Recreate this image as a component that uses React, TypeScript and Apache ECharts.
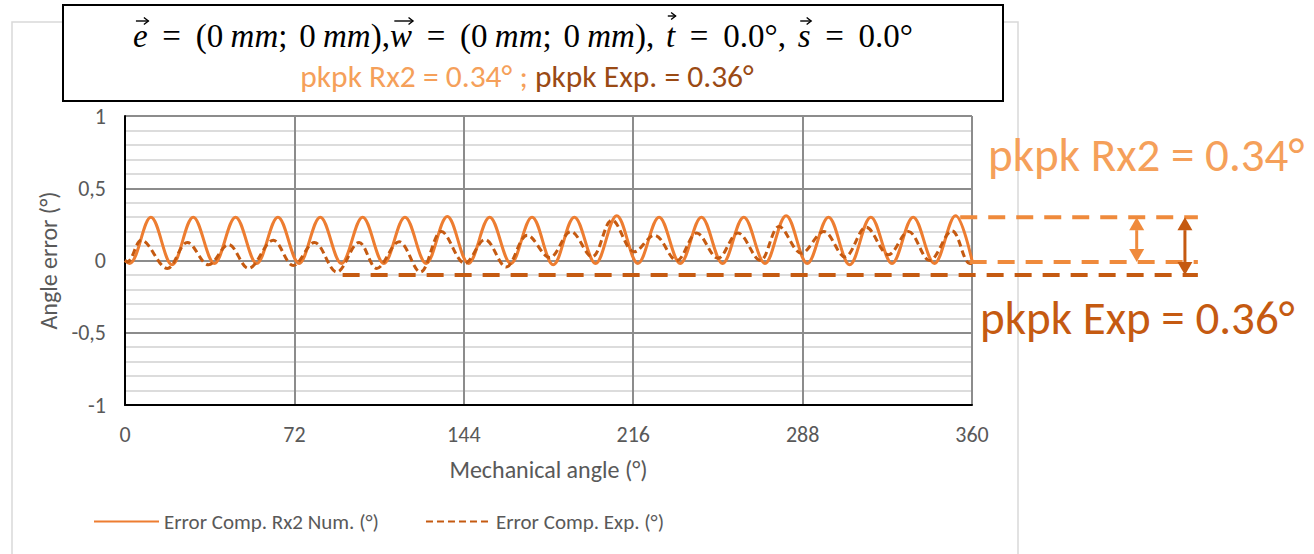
import React, { useEffect, useRef } from "react";
import * as echarts from "echarts";

// Solid series (Rx2 numerical) – extrema
const solidX = [0, 2, 11, 20, 29, 38, 47, 56, 65, 74, 83, 92, 101, 110, 119, 128, 137, 146, 155, 164, 173, 182, 191, 200, 209, 218, 227, 236, 245, 254, 263, 272, 281, 290, 299, 308, 317, 326, 335, 344, 353, 360];
const solidY = [0.0, -0.02,
  0.30, -0.03, 0.30, -0.02, 0.30, -0.02, 0.30, -0.02, 0.30, -0.02,
  0.30, -0.02, 0.30, -0.02, 0.305, -0.02, 0.30, -0.02, 0.30, -0.03,
  0.30, -0.02, 0.31, -0.02, 0.30, -0.02, 0.30, -0.02, 0.30, -0.02,
  0.31, -0.02, 0.30, -0.03, 0.30, -0.02, 0.30, -0.02, 0.31,
  0.0];

// Dashed series (experimental)
const expX = [0, 1, 7, 18, 26.5, 35.5, 44, 52.5, 63, 71.5, 80.5, 90, 99.5, 107, 116.5, 125.5, 134.5, 144.5, 153, 162, 171, 180.5, 189.5, 198.5, 207, 216.5, 225, 234.5, 243, 252, 260.5, 270, 278, 287.5, 297, 306, 315, 324.5, 333, 342, 351.5, 359, 360];
const expY = [0.0, -0.01, 0.14, -0.055, 0.125, -0.03, 0.11, -0.055, 0.14, -0.035, 0.125, -0.08, 0.125, -0.055, 0.13, -0.08, 0.20, -0.02, 0.145, -0.045, 0.175, 0.02, 0.20, 0.025, 0.28, 0.06, 0.175, 0.0, 0.19, 0.015, 0.19, 0.0, 0.235, 0.05, 0.20, 0.025, 0.23, 0.04, 0.20, 0.0, 0.205, -0.02, -0.02];

const seriesNames = ["Error Comp. Rx2 Num. (°)", "Error Comp. Exp. (°)"];

// Peak-to-peak guide annotations (values in chart units)
const guideLevels = [0.30, -0.01, -0.10];
const guideStarts = [355, 359, 92.5];
const guideEnd = 456;
const arrowAt = [430, 450.5];
const arrowSpans = [[0.30, -0.01], [0.30, -0.10]];

// Title formula tokens: [text, italic, vector, space weight after]
const titleTokens: [string, boolean, boolean, number][] = [
  ["e", true, true, 1], ["=", false, false, 1], ["(0", false, false, 0.5], ["mm", true, false, 0], [";", false, false, 0.8],
  ["0", false, false, 0.5], ["mm", true, false, 0], ["),", false, false, 0],
  ["w", true, true, 1], ["=", false, false, 1], ["(0", false, false, 0.5], ["mm", true, false, 0], [";", false, false, 0.8],
  ["0", false, false, 0.5], ["mm", true, false, 0], ["),", false, false, 0.8],
  ["t", true, true, 1], ["=", false, false, 1], ["0.0°,", false, false, 0.8],
  ["s", true, true, 1], ["=", false, false, 1], ["0.0°", false, false, 0],
];

const FONT = "Carlito, Calibri, Lato, 'Noto Sans', sans-serif";
const SERIF = "'Liberation Serif', 'DejaVu Serif', serif";
const GREY = "#595959";
const C_SOLID = "#ED7D31";
const C_EXP = "#C55A11";
const C_LIGHT = "#F5A05A";

export default function App() {
  const ref = useRef<HTMLDivElement>(null);
  useEffect(() => {
    document.body.style.margin = "0";
    const chart = echarts.init(ref.current!, null, { renderer: "svg" });
    const option: any = {
      animation: false,
      backgroundColor: "#fff",
      textStyle: { fontFamily: FONT },
      grid: { left: 125, right: 342, top: 116, bottom: 149, containLabel: false },
      legend: {
        left: 88,
        top: 506,
        itemWidth: 65,
        itemHeight: 14,
        itemGap: 46,
        itemStyle: { opacity: 0 },
        textStyle: { color: GREY, fontSize: 21, fontFamily: FONT },
        data: seriesNames,
      },
      xAxis: {
        type: "value",
        min: 0,
        max: 360,
        interval: 72,
        name: "Mechanical angle (°)",
        nameLocation: "middle",
        nameGap: 52,
        nameTextStyle: { color: GREY, fontSize: 24, fontFamily: FONT },
        axisLine: { show: true, onZero: false, lineStyle: { color: "#000", width: 2 } },
        axisTick: { show: false },
        axisLabel: { color: GREY, fontSize: 22, margin: 18 },
        splitLine: { show: true, lineStyle: { color: "#8c8c8c", width: 2 } },
      },
      yAxis: {
        type: "value",
        min: -1,
        max: 1,
        interval: 0.5,
        name: "Angle error (°)",
        nameLocation: "middle",
        nameGap: 61,
        nameTextStyle: { color: GREY, fontSize: 24, fontFamily: FONT },
        axisLine: { show: true, onZero: false, lineStyle: { color: "#000", width: 2 } },
        axisTick: { show: false },
        axisLabel: {
          color: GREY,
          fontSize: 22,
          margin: 19,
          formatter: (v: number) => String(v).replace(".", ","),
        },
        splitLine: { show: true, lineStyle: { color: "#8c8c8c", width: 2 } },
        minorTick: { show: false, splitNumber: 5 },
        minorSplitLine: { show: true, lineStyle: { color: "#d0d0d0", width: 1.5 } },
      },
      series: [
        {
          name: seriesNames[0],
          type: "line",
          data: solidX.map((x, i) => [x, solidY[i]]),
          smooth: 0.36,
          symbol: "none",
          lineStyle: { color: C_SOLID, width: 3 },
          itemStyle: { color: C_SOLID },
        },
        {
          name: seriesNames[1],
          type: "line",
          data: expX.map((x, i) => [x, expY[i]]),
          smooth: 0.36,
          symbol: "none",
          lineStyle: { color: C_EXP, width: 3, type: [7, 4] },
          itemStyle: { color: C_EXP },
        },
      ],
    };
    chart.setOption(option);

    const px = (x: number, y: number) => chart.convertToPixel({ gridIndex: 0 }, [x, y]) as number[];
    const graphics: any[] = [
      {
        type: "rect",
        silent: true,
        z: -10,
        shape: { x: 12, y: 22, width: 1006, height: 600 },
        style: { fill: "none", stroke: "#d9d9d9", lineWidth: 1.5 },
      },
      {
        type: "rect",
        z: 100,
        shape: { x: 63, y: 5, width: 940, height: 96 },
        style: { fill: "#fff", stroke: "#000", lineWidth: 2 },
      },
      {
        type: "text",
        z: 101,
        x: 527,
        y: 76,
        style: {
          text: "{a|pkpk Rx2 = 0.34° ; }{b|pkpk Exp. = 0.36°}",
          align: "center",
          verticalAlign: "middle",
          rich: {
            a: { fontFamily: FONT, fontSize: 31.5, fill: C_LIGHT },
            b: { fontFamily: FONT, fontSize: 31.5, fill: "#9A4A14" },
          },
        },
      },
      {
        type: "text",
        x: 988,
        y: 155,
        style: { text: "pkpk Rx2 = 0.34°", font: `47px ${FONT}`, fill: C_LIGHT, align: "left", verticalAlign: "middle" },
      },
      {
        type: "text",
        x: 980,
        y: 318,
        style: { text: "pkpk Exp = 0.36°", font: `47px ${FONT}`, fill: C_EXP, align: "left", verticalAlign: "middle" },
      },
    ];

    // Title formula laid out token by token, vector arrows drawn above letters
    const fs = 33;
    const targetWidth = 780;
    const canvas = document.createElement("canvas");
    const ctx = canvas.getContext("2d")!;
    const fontOf = (it: boolean) => `${it ? "italic " : ""}${fs}px ${SERIF}`;
    const widths = titleTokens.map(([t, it]) => {
      ctx.font = fontOf(it);
      return ctx.measureText(t).width;
    });
    const sumW = widths.reduce((a, b) => a + b, 0);
    const sumGap = titleTokens.reduce((a, tk) => a + tk[3], 0);
    const unit = Math.max(4, (targetWidth - sumW) / sumGap);
    const total = sumW + unit * sumGap;
    let cx = 523 - total / 2;
    const ty = 36;
    titleTokens.forEach(([t, it, vec, g], i) => {
      graphics.push({
        type: "text",
        z: 101,
        x: cx,
        y: ty,
        style: { text: t, font: fontOf(it), fill: "#000", align: "left", verticalAlign: "middle" },
      });
      if (vec) {
        const w = widths[i];
        const ay = t === "t" ? ty - 20 : ty - 15;
        const x1 = cx + w * 0.2;
        const x2 = cx + w * 1.05;
        graphics.push({
          type: "line",
          z: 102,
          shape: { x1, y1: ay, x2, y2: ay },
          style: { stroke: "#000", lineWidth: 1.4 },
        });
        graphics.push({
          type: "polyline",
          z: 102,
          shape: { points: [[x2 - 4.5, ay - 3.5], [x2, ay], [x2 - 4.5, ay + 3.5]] },
          style: { stroke: "#000", lineWidth: 1.4, fill: "none" },
        });
      }
      cx += widths[i] + g * unit;
    });

    guideLevels.forEach((lv, i) => {
      const a = px(guideStarts[i], lv);
      const b = px(guideEnd, lv);
      graphics.push({
        type: "line",
        z: 50,
        shape: { x1: a[0], y1: a[1], x2: b[0], y2: b[1] },
        style: { stroke: i < 2 ? "#EF8A3C" : C_EXP, lineWidth: 4, lineDash: [17, 11] },
      });
    });
    arrowAt.forEach((ax, i) => {
      const col = i === 0 ? "#EF8A3C" : C_EXP;
      const top = px(ax, arrowSpans[i][0]);
      const bot = px(ax, arrowSpans[i][1]);
      const x = top[0];
      const h = 13;
      const w = 7.5;
      graphics.push({
        type: "line",
        z: 50,
        shape: { x1: x, y1: top[1] + h, x2: x, y2: bot[1] - h },
        style: { stroke: col, lineWidth: 3 },
      });
      graphics.push({
        type: "polygon",
        z: 50,
        shape: { points: [[x, top[1]], [x - w, top[1] + h], [x + w, top[1] + h]] },
        style: { fill: col },
      });
      graphics.push({
        type: "polygon",
        z: 50,
        shape: { points: [[x, bot[1]], [x - w, bot[1] - h], [x + w, bot[1] - h]] },
        style: { fill: col },
      });
    });
    chart.setOption({ graphic: graphics });
    return () => chart.dispose();
  }, []);
  return <div ref={ref} style={{ width: 1314, height: 554 }} />;
}
